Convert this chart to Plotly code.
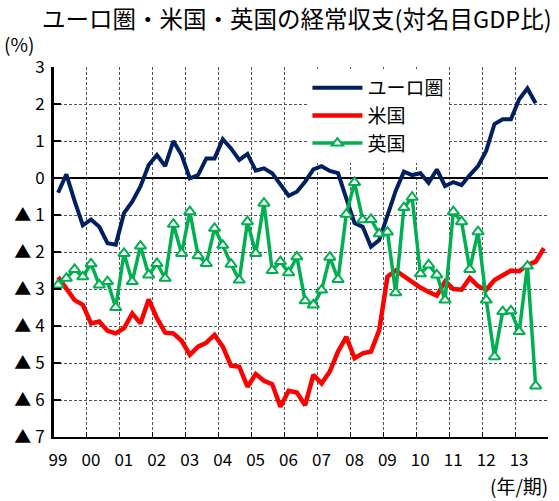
import plotly.graph_objects as go

years = ["99", "00", "01", "02", "03", "04", "05", "06", "07", "08", "09", "10", "11", "12", "13"]
y_ticks = [3, 2, 1, 0, -1, -2, -3, -4, -5, -6, -7]
y_ticktext = ["3", "2", "1", "0", "▲ 1", "▲ 2", "▲ 3", "▲ 4", "▲ 5", "▲ 6", "▲ 7"]

euro = [-0.40, 0.10, -0.62, -1.28, -1.12, -1.32, -1.76, -1.80, -0.95, -0.64,
        -0.23, 0.35, 0.62, 0.32, 1.00, 0.62, -0.01, 0.08, 0.53, 0.53,
        1.05, 0.80, 0.49, 0.65, 0.20, 0.26, 0.13, -0.19, -0.48, -0.37,
        -0.10, 0.23, 0.32, 0.19, 0.13, -0.55, -1.22, -1.32, -1.86, -1.68,
        -1.05, -0.35, 0.17, 0.08, 0.13, -0.13, 0.23, -0.22, -0.11, -0.19,
        0.08, 0.32, 0.74, 1.46, 1.59, 1.59, 2.13, 2.42, 2.02]

us = [-2.68, -2.98, -3.30, -3.43, -3.93, -3.88, -4.13, -4.20, -4.06, -3.66,
      -3.93, -3.28, -3.79, -4.18, -4.20, -4.40, -4.78, -4.56, -4.45, -4.24,
      -4.56, -5.07, -5.10, -5.64, -5.30, -5.48, -5.57, -6.18, -5.75, -5.80,
      -6.14, -5.32, -5.55, -5.23, -4.69, -4.29, -4.87, -4.74, -4.69, -4.11,
      -2.67, -2.50, -2.65, -2.83, -2.96, -3.08, -3.18, -2.80, -3.00, -3.02,
      -2.70, -2.92, -3.02, -2.76, -2.62, -2.50, -2.52, -2.35, -2.26, -1.90]

uk = [-2.89, -2.71, -2.47, -2.67, -2.32, -2.89, -2.80, -3.50, -2.04, -2.80,
      -1.84, -2.62, -2.31, -2.71, -1.25, -2.04, -0.91, -2.10, -2.31, -1.36,
      -1.82, -2.33, -2.76, -1.18, -2.04, -0.68, -2.50, -2.26, -2.56, -2.13,
      -3.32, -3.43, -3.03, -2.14, -2.74, -0.98, -0.12, -1.13, -1.12, -1.51,
      -1.46, -3.10, -0.80, -0.52, -2.59, -2.35, -2.62, -3.30, -0.91, -1.18,
      -2.47, -1.45, -3.30, -4.83, -3.61, -3.59, -4.15, -2.38, -5.62]

FONT = "Noto Sans CJK JP"
n_q = len(years) * 4

fig = go.Figure()
fig.add_trace(go.Scatter(x=list(range(len(euro))), y=euro, name="ユーロ圏", mode="lines",
                         line=dict(color="#002060", width=4)))
fig.add_trace(go.Scatter(x=list(range(len(us))), y=us, name="米国", mode="lines",
                         line=dict(color="#FF0000", width=4.5)))
fig.add_trace(go.Scatter(x=list(range(len(uk))), y=uk, name="英国", mode="lines+markers",
                         line=dict(color="#00B050", width=3.5),
                         marker=dict(symbol="triangle-up", size=10, color="white",
                                     line=dict(color="#00B050", width=2))))

bounds = [-0.5 + 4 * k for k in range(len(years) + 1)]
fig.update_layout(
    width=559, height=501,
    margin=dict(l=54, r=11, t=67, b=64),
    paper_bgcolor="white", plot_bgcolor="white",
    font=dict(family=FONT, color="black", size=17),
    showlegend=True,
    legend=dict(x=0.513, y=0.995, xanchor="left", yanchor="top", bgcolor="white",
                font=dict(size=19, family=FONT), borderwidth=0, itemwidth=50),
    xaxis=dict(range=[-0.5, n_q - 0.5], tickvals=bounds,
               ticktext=years + [""], ticklabelshift=4, ticklabelstandoff=7,
               showgrid=True, gridcolor="#555", gridwidth=1, griddash="3px,2px",
               ticks="inside", ticklen=5, tickcolor="black", tickwidth=1,
               showline=True, linecolor="black", linewidth=2, zeroline=False,
               tickfont=dict(size=17, family=FONT)),
    yaxis=dict(range=[-7, 3], tickvals=y_ticks, ticktext=y_ticktext,
               showgrid=True, gridcolor="#555", gridwidth=1, griddash="3px,2px",
               zeroline=True, zerolinecolor="black", zerolinewidth=2,
               ticks="inside", ticklen=7, tickcolor="black", tickwidth=1.5,
               showline=True, linecolor="black", linewidth=3, ticklabelstandoff=3,
               tickfont=dict(size=17, family=FONT)),
    annotations=[
        dict(text="ユーロ圏・米国・英国の経常収支(対名目GDP比)", xref="paper", yref="paper",
             x=0.492, y=1.0, yshift=49, xanchor="center", yanchor="middle",
             showarrow=False, font=dict(size=23.5, family=FONT)),
        dict(text="(%)", xref="paper", yref="paper", x=0, y=1.0, xshift=-52, yshift=24,
             xanchor="left", yanchor="middle", showarrow=False, font=dict(size=19, family=FONT)),
        dict(text="(年/期)", xref="paper", yref="paper", x=1.0, y=0, xshift=-60, yshift=-48,
             xanchor="left", yanchor="middle", showarrow=False, font=dict(size=19, family=FONT)),
    ],
)

fig.write_html("out.html", config={"displayModeBar": False},
               post_script="document.body.style.margin='0';")
